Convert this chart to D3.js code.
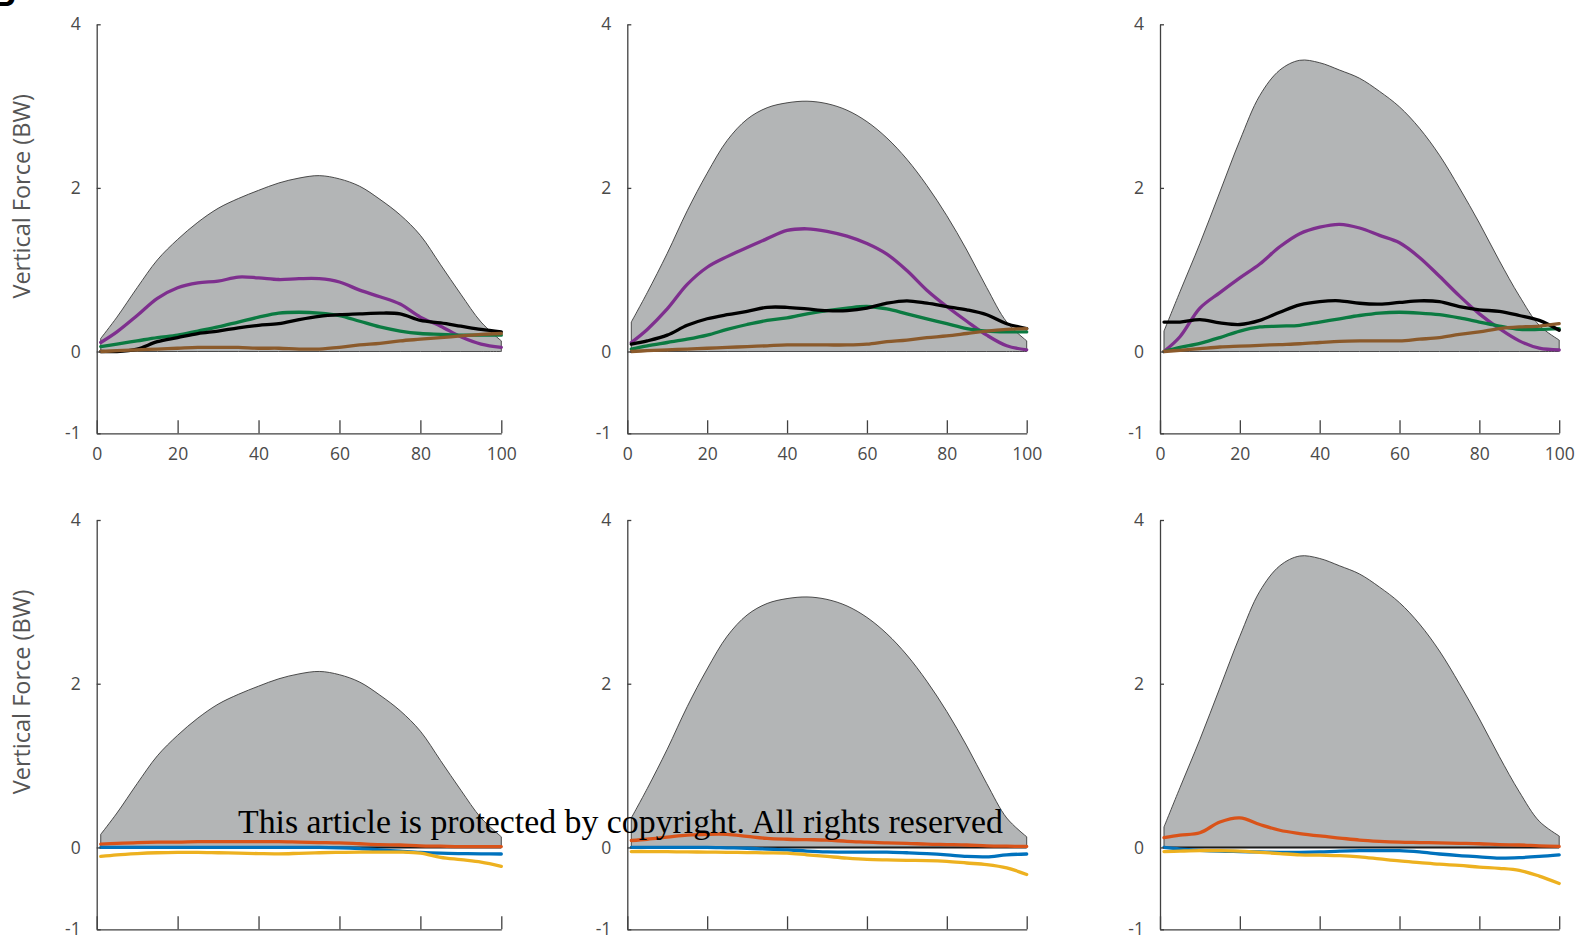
<!DOCTYPE html>
<html>
<head>
<meta charset="utf-8">
<script src="https://cdn.jsdelivr.net/npm/d3@7"></script>
<style>
  html, body { margin: 0; padding: 0; background: #fff; overflow: hidden; }
  svg { display: block; }
</style>
</head>
<body>
<svg id="chart" width="1590" height="941"></svg>
<script>
// % of stance phase at which each curve is sampled
const pct = [1, 5, 10, 15, 20, 25, 30, 35, 40, 45, 50, 55, 60, 65, 70, 75, 80, 85, 90, 95, 100];
const xTicks = [0, 20, 40, 60, 80, 100];
const yTicks = [-1, 0, 2, 4];
const yLabel = "Vertical Force (BW)";
const notice = "This article is protected by copyright. All rights reserved";

// Total vertical force envelopes (grey), one per column
const envA = [0.16, 0.42, 0.78, 1.12, 1.37, 1.58, 1.75, 1.87, 1.97, 2.06, 2.12, 2.15, 2.11, 2.02, 1.86, 1.67, 1.42, 1.06, 0.70, 0.36, 0.13];
const envB = [0.36, 0.72, 1.20, 1.72, 2.18, 2.58, 2.84, 2.98, 3.04, 3.06, 3.03, 2.95, 2.81, 2.61, 2.35, 2.03, 1.66, 1.24, 0.78, 0.36, 0.13];
const envC = [0.25, 0.73, 1.32, 1.95, 2.58, 3.13, 3.44, 3.56, 3.53, 3.44, 3.34, 3.18, 2.99, 2.73, 2.40, 2.00, 1.57, 1.11, 0.68, 0.32, 0.14];

// Top row contributions
const purpleA = [0.11, 0.24, 0.44, 0.65, 0.78, 0.84, 0.86, 0.91, 0.90, 0.88, 0.89, 0.89, 0.85, 0.75, 0.67, 0.58, 0.42, 0.31, 0.18, 0.09, 0.05];
const greenA  = [0.06, 0.09, 0.13, 0.17, 0.20, 0.25, 0.30, 0.36, 0.42, 0.47, 0.48, 0.47, 0.44, 0.37, 0.30, 0.25, 0.22, 0.21, 0.20, 0.20, 0.20];
const blackA  = [0.00, 0.00, 0.03, 0.12, 0.17, 0.22, 0.25, 0.29, 0.32, 0.34, 0.39, 0.43, 0.45, 0.46, 0.47, 0.46, 0.38, 0.35, 0.31, 0.27, 0.24];
const brownA  = [0.00, 0.01, 0.02, 0.03, 0.04, 0.05, 0.05, 0.05, 0.04, 0.04, 0.03, 0.03, 0.05, 0.08, 0.10, 0.13, 0.15, 0.17, 0.19, 0.21, 0.22];

const purpleB = [0.11, 0.27, 0.52, 0.82, 1.03, 1.16, 1.27, 1.38, 1.48, 1.50, 1.47, 1.41, 1.32, 1.19, 0.99, 0.75, 0.55, 0.37, 0.20, 0.07, 0.02];
const greenB  = [0.03, 0.07, 0.11, 0.15, 0.20, 0.27, 0.33, 0.38, 0.41, 0.46, 0.50, 0.53, 0.55, 0.52, 0.46, 0.40, 0.34, 0.28, 0.25, 0.24, 0.24];
const blackB  = [0.09, 0.13, 0.20, 0.32, 0.40, 0.45, 0.49, 0.54, 0.54, 0.52, 0.50, 0.50, 0.53, 0.59, 0.62, 0.59, 0.55, 0.51, 0.45, 0.34, 0.28];
const brownB  = [0.00, 0.01, 0.02, 0.03, 0.04, 0.05, 0.06, 0.07, 0.08, 0.08, 0.08, 0.08, 0.09, 0.12, 0.14, 0.17, 0.19, 0.22, 0.25, 0.27, 0.28];

const purpleC = [0.00, 0.18, 0.53, 0.72, 0.90, 1.07, 1.28, 1.44, 1.52, 1.555, 1.51, 1.42, 1.33, 1.15, 0.92, 0.68, 0.46, 0.28, 0.13, 0.04, 0.02];
const greenC  = [0.00, 0.05, 0.10, 0.17, 0.25, 0.30, 0.31, 0.32, 0.36, 0.40, 0.44, 0.47, 0.48, 0.47, 0.45, 0.41, 0.36, 0.31, 0.27, 0.27, 0.28];
const blackC  = [0.36, 0.36, 0.39, 0.35, 0.33, 0.38, 0.48, 0.57, 0.61, 0.62, 0.59, 0.58, 0.60, 0.62, 0.61, 0.55, 0.51, 0.49, 0.44, 0.38, 0.26];
const brownC  = [0.00, 0.015, 0.035, 0.055, 0.065, 0.075, 0.085, 0.095, 0.11, 0.125, 0.13, 0.13, 0.13, 0.15, 0.17, 0.21, 0.24, 0.28, 0.30, 0.31, 0.34];

// Bottom row contributions
const orangeA = [0.04, 0.05, 0.06, 0.065, 0.065, 0.07, 0.07, 0.07, 0.07, 0.07, 0.065, 0.06, 0.055, 0.045, 0.035, 0.03, 0.02, 0.015, 0.01, 0.01, 0.01];
const blueA   = [0.00, 0.00, 0.00, 0.00, 0.00, 0.00, 0.00, 0.00, 0.00, 0.00, 0.00, 0.00, -0.005, -0.015, -0.03, -0.045, -0.06, -0.07, -0.075, -0.078, -0.08];
const yellowA = [-0.11, -0.09, -0.075, -0.065, -0.06, -0.06, -0.065, -0.07, -0.075, -0.078, -0.072, -0.065, -0.06, -0.058, -0.057, -0.057, -0.07, -0.12, -0.15, -0.18, -0.23];

const orangeB = [0.085, 0.10, 0.125, 0.15, 0.16, 0.16, 0.135, 0.11, 0.10, 0.095, 0.09, 0.075, 0.065, 0.055, 0.05, 0.04, 0.035, 0.03, 0.02, 0.015, 0.012];
const blueB   = [0.00, 0.00, 0.00, 0.00, 0.00, -0.005, -0.01, -0.02, -0.03, -0.045, -0.055, -0.057, -0.057, -0.057, -0.065, -0.075, -0.09, -0.11, -0.115, -0.09, -0.08];
const yellowB = [-0.05, -0.05, -0.052, -0.055, -0.057, -0.06, -0.063, -0.066, -0.07, -0.09, -0.11, -0.13, -0.145, -0.152, -0.157, -0.16, -0.17, -0.19, -0.21, -0.25, -0.33];

const orangeC = [0.12, 0.15, 0.18, 0.31, 0.36, 0.28, 0.21, 0.17, 0.14, 0.115, 0.09, 0.075, 0.065, 0.06, 0.055, 0.05, 0.045, 0.035, 0.03, 0.02, 0.012];
const blueC   = [0.00, -0.02, -0.035, -0.045, -0.05, -0.055, -0.06, -0.06, -0.055, -0.045, -0.04, -0.04, -0.04, -0.055, -0.08, -0.10, -0.115, -0.13, -0.125, -0.11, -0.09];
const yellowC = [-0.05, -0.045, -0.04, -0.04, -0.045, -0.06, -0.075, -0.09, -0.095, -0.10, -0.115, -0.14, -0.165, -0.185, -0.205, -0.22, -0.24, -0.255, -0.28, -0.35, -0.44];

// Colours
const C = {
  fill: "#b3b5b6", outline: "#3a3a3a", axis: "#404040", tick: "#4a4a4a",
  purple: "#7e2f8e", green: "#0b7a41", black: "#000000", brown: "#8b5a2b",
  orange: "#d95319", blue: "#0072bd", yellow: "#edb120"
};

// Layout of the 2 x 3 grid of panels
const colLeft  = [96.7, 627.3, 1160];
const colRight = [501.3, 1026.7, 1559.2];
const rowTop    = [24.3, 520];
const rowBottom = [433.3, 929.3];

const panels = [
  { row: 0, col: 0, env: envA, lines: [[purpleA, C.purple], [greenA, C.green], [blackA, C.black], [brownA, C.brown]] },
  { row: 0, col: 1, env: envB, lines: [[purpleB, C.purple], [greenB, C.green], [blackB, C.black], [brownB, C.brown]] },
  { row: 0, col: 2, env: envC, lines: [[purpleC, C.purple], [greenC, C.green], [blackC, C.black], [brownC, C.brown]] },
  { row: 1, col: 0, env: envA, zero: true, lines: [[orangeA, C.orange], [blueA, C.blue], [yellowA, C.yellow]] },
  { row: 1, col: 1, env: envB, zero: true, lines: [[orangeB, C.orange], [blueB, C.blue], [yellowB, C.yellow]] },
  { row: 1, col: 2, env: envC, zero: true, lines: [[orangeC, C.orange], [blueC, C.blue], [yellowC, C.yellow]] }
];

const svg = d3.select("#chart");
const tickFont = "'Open Sans', sans-serif";
const smooth = d3.curveCatmullRom.alpha(0.5);

panels.forEach(p => {
  const x = d3.scaleLinear().domain([0, 100]).range([colLeft[p.col], colRight[p.col]]);
  const y = d3.scaleLinear().domain([-1, 4]).range([rowBottom[p.row], rowTop[p.row]]);
  const g = svg.append("g");

  // grey envelope of total force
  const area = d3.area()
    .x((d, i) => x(pct[i]))
    .y0(y(0))
    .y1(d => y(d))
    .curve(smooth);
  g.append("path")
    .datum(p.env)
    .attr("d", area)
    .attr("fill", C.fill)
    .attr("stroke", C.outline)
    .attr("stroke-width", 0.9)
    .attr("stroke-linejoin", "round");

  if (p.zero) {
    g.append("line")
      .attr("x1", x(pct[0])).attr("x2", x(pct[pct.length - 1]))
      .attr("y1", y(0)).attr("y2", y(0))
      .attr("stroke", "#1a1a1a").attr("stroke-width", 2);
  }

  const line = d3.line()
    .x((d, i) => x(pct[i]))
    .y(d => y(d))
    .curve(smooth);
  p.lines.forEach(([vals, col]) => {
    g.append("path")
      .datum(vals)
      .attr("d", line)
      .attr("fill", "none")
      .attr("stroke", col)
      .attr("stroke-width", 3.3)
      .attr("stroke-linejoin", "round")
      .attr("stroke-linecap", "round");
  });

  // axes
  const yAxis = d3.axisLeft(y).tickValues(yTicks).tickSize(-4).tickSizeOuter(0)
    .tickPadding(16).tickFormat(d => String(d));
  const xAxis = d3.axisBottom(x).tickValues(xTicks).tickSize(-13).tickSizeOuter(0)
    .tickPadding(14).tickFormat(d => String(d));

  const ya = g.append("g").attr("transform", `translate(${x(0)},0)`).call(yAxis);
  const xa = g.append("g").attr("transform", `translate(0,${y(-1)})`).call(xAxis);
  [ya, xa].forEach(a => {
    a.select(".domain").attr("stroke", C.axis).attr("stroke-width", 1.3);
    a.selectAll(".tick line").attr("stroke", C.axis).attr("stroke-width", 1.3);
    a.selectAll(".tick text")
      .attr("fill", C.tick)
      .style("font-family", tickFont)
      .style("font-size", "17.5px");
  });

  if (p.col === 0) {
    svg.append("text")
      .attr("transform", `translate(30,${rowTop[p.row] + 172}) rotate(-90)`)
      .attr("text-anchor", "middle")
      .attr("fill", "#555")
      .style("font-family", tickFont)
      .style("font-size", "23.5px")
      .text(yLabel);
  }
});

// panel letter, mostly outside the frame
svg.append("text")
  .attr("x", -10).attr("y", 6)
  .attr("fill", "#000")
  .style("font-family", "'Liberation Sans', Arial, sans-serif")
  .style("font-weight", "bold")
  .style("font-size", "36px")
  .text("B");

// copyright notice across the lower row
svg.append("text")
  .attr("x", 238).attr("y", 833)
  .attr("textLength", 765)
  .attr("lengthAdjust", "spacingAndGlyphs")
  .attr("fill", "#000")
  .style("font-family", "'Liberation Serif', 'DejaVu Serif', serif")
  .style("font-size", "33px")
  .text(notice);
</script>
</body>
</html>
